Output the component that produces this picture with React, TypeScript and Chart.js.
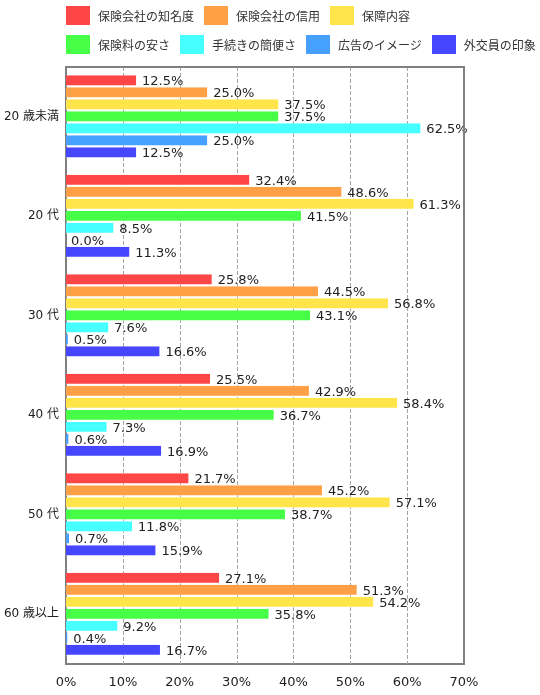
import React, { useEffect, useRef } from "react";
import { Chart, registerables } from "chart.js";

Chart.register(...registerables);

const categories = ["20 歳未満", "20 代", "30 代", "40 代", "50 代", "60 歳以上"];
const seriesNames = [
  "保険会社の知名度",
  "保険会社の信用",
  "保障内容",
  "保険料の安さ",
  "手続きの簡便さ",
  "広告のイメージ",
  "外交員の印象",
];
const seriesColors = ["#FF4646", "#FFA046", "#FFE44A", "#46FF46", "#46FFFF", "#46A0FF", "#4646FF"];
const awareness = [12.5, 32.4, 25.8, 25.5, 21.7, 27.1];
const trust = [25.0, 48.6, 44.5, 42.9, 45.2, 51.3];
const coverage = [37.5, 61.3, 56.8, 58.4, 57.1, 54.2];
const cheapness = [37.5, 41.5, 43.1, 36.7, 38.7, 35.8];
const easeOfProcedure = [62.5, 8.5, 7.6, 7.3, 11.8, 9.2];
const adImage = [25.0, 0.0, 0.5, 0.6, 0.7, 0.4];
const agentImpression = [12.5, 11.3, 16.6, 16.9, 15.9, 16.7];
const seriesValues = [awareness, trust, coverage, cheapness, easeOfProcedure, adImage, agentImpression];
const xTicks = [0, 10, 20, 30, 40, 50, 60, 70];
const legendRows = [3, 4];

const FONT = "'DejaVu Sans', 'Noto Sans CJK JP', sans-serif";

const valueLabelPlugin = {
  id: "valueLabels",
  afterDatasetsDraw(chart: any) {
    const ctx = chart.ctx;
    ctx.save();
    ctx.font = `13px ${FONT}`;
    ctx.fillStyle = "#222";
    ctx.textBaseline = "middle";
    ctx.textAlign = "left";
    chart.data.datasets.forEach((ds: any, di: number) => {
      const meta = chart.getDatasetMeta(di);
      meta.data.forEach((el: any, i: number) => {
        const v = ds.data[i];
        ctx.fillText(v.toFixed(1) + "%", el.x + 5, el.y + 1);
      });
    });
    ctx.restore();
  },
};

const dashedGridPlugin = {
  id: "dashedGrid",
  beforeDatasetsDraw(chart: any) {
    const { ctx, chartArea } = chart;
    const xs = chart.scales.x;
    ctx.save();
    ctx.strokeStyle = "#A4A4A4";
    ctx.lineWidth = 1;
    ctx.setLineDash([4, 2]);
    xs.ticks.forEach((t: any) => {
      if (t.value === 0 || t.value === 70) return;
      const px = Math.round(xs.getPixelForValue(t.value)) + 0.5;
      ctx.beginPath();
      ctx.moveTo(px, chartArea.top);
      ctx.lineTo(px, chartArea.bottom);
      ctx.stroke();
    });
    ctx.restore();
  },
};

const framePlugin = {
  id: "frame",
  afterDraw(chart: any) {
    const { ctx, chartArea } = chart;
    ctx.save();
    ctx.strokeStyle = "#808080";
    ctx.lineWidth = 2;
    ctx.beginPath();
    ctx.moveTo(chartArea.left, chartArea.top);
    ctx.lineTo(chartArea.right, chartArea.top);
    ctx.lineTo(chartArea.right, chartArea.bottom);
    ctx.stroke();
    ctx.restore();
  },
};

function Legend() {
  const rows: number[][] = [];
  let start = 0;
  legendRows.forEach((n) => {
    rows.push(Array.from({ length: n }, (_, k) => start + k));
    start += n;
  });
  return (
    <div style={{ position: "absolute", left: 66, top: 6 }}>
      {rows.map((row, ri) => (
        <div key={ri} style={{ display: "flex", height: 19, marginBottom: 10 }}>
          {row.map((idx) => (
            <div key={idx} style={{ display: "flex", alignItems: "center", marginRight: 10 }}>
              <div style={{ width: 24, height: 19, background: seriesColors[idx], marginRight: 8 }} />
              <span style={{ font: `12px 'Noto Sans CJK JP', sans-serif`, color: "#333", whiteSpace: "nowrap" }}>
                {seriesNames[idx]}
              </span>
            </div>
          ))}
        </div>
      ))}
    </div>
  );
}

export default function App() {
  const canvasRef = useRef<HTMLCanvasElement | null>(null);

  useEffect(() => {
    document.body.style.margin = "0";
    const canvas = canvasRef.current;
    if (!canvas) return;
    const chart = new Chart(canvas, {
      type: "bar",
      data: {
        labels: categories,
        datasets: seriesNames.map((name, i) => ({
          label: name,
          data: seriesValues[i],
          backgroundColor: seriesColors[i],
          borderColor: "rgba(255,255,255,0.55)",
          borderWidth: { top: 0, left: 0, right: 1, bottom: 1 },
          borderSkipped: false,
          categoryPercentage: 0.845,
          barPercentage: 0.92,
        })),
      },
      options: {
        indexAxis: "y",
        animation: false,
        responsive: false,
        maintainAspectRatio: false,
        devicePixelRatio: 1,
        layout: { padding: { top: 67, right: 76, bottom: 0, left: 0 } },
        plugins: {
          legend: { display: false },
          tooltip: { enabled: false },
        },
        scales: {
          x: {
            type: "linear",
            min: 0,
            max: 70,
            afterBuildTicks: (scale: any) => {
              scale.ticks = xTicks.map((v) => ({ value: v }));
            },
            afterFit: (scale: any) => {
              scale.height = 31;
            },
            ticks: {
              font: { family: FONT, size: 13 },
              color: "#222",
              padding: 11,
              callback: (v: any) => v + "%",
            },
            grid: { display: false, drawTicks: false },
            border: { display: true, color: "#808080", width: 2 },
          },
          y: {
            afterFit: (scale: any) => {
              scale.width = 66;
            },
            ticks: {
              font: { family: FONT, size: 12 },
              color: "#222",
              padding: 7,
            },
            grid: { display: false, drawTicks: false },
            border: { display: true, color: "#808080", width: 2 },
          },
        },
      },
      plugins: [dashedGridPlugin, valueLabelPlugin, framePlugin],
    } as any);
    return () => chart.destroy();
  }, []);

  return (
    <div style={{ position: "relative", width: 540, height: 695, background: "#fff" }}>
      <canvas ref={canvasRef} width={540} height={695} style={{ position: "absolute", left: 0, top: 0 }} />
      <Legend />
    </div>
  );
}
